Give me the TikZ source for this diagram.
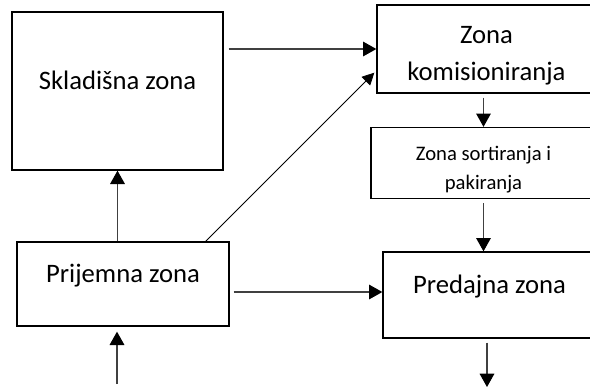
\documentclass[tikz,border=0pt]{standalone}
\usepackage{fontspec}
\setmainfont{Carlito}
\usetikzlibrary{arrows.meta,calc}
\begin{document}
\begin{tikzpicture}[
			x=0.75pt, y=-0.75pt,
			zone/.style={rectangle, draw, line width=1pt, inner sep=0pt, align=center, font=\fontsize{20}{28}\selectfont},
			lift/.style={text height=14pt, text depth=16pt},
			flow/.style={draw=black!75, line width=0.8pt, -{Triangle[length=10pt, width=11pt, color=black]}},
			slant/.style={draw=black, line width=0.6pt, -{Triangle[length=9pt, width=9pt]}}
			]
			\clip (0,0) rectangle (590,387);
			
			\node[zone, lift] (sklad) [minimum width=158.25pt, minimum height=118.5pt] at (117.5,91) {Skladišna zona};
			\node[zone] (komis) [minimum width=164.25pt, minimum height=66pt] at (486.5,49) {\rule{0pt}{23pt}Zona\\komisioniranja};
			\node[zone] (sort) [minimum width=168.75pt, minimum height=53.25pt, font=\fontsize{15.5}{22}\selectfont] at (483.5,163) {\rule{0pt}{20.5pt}Zona sortiranja i\\pakiranja};
			\node[zone, lift] (prijem) [minimum width=159pt, minimum height=63pt] at (123,284) {Prijemna zona};
			\node[zone, lift] (predaj) [minimum width=159.75pt, minimum height=64.5pt] at (489.5,295) {Predajna zona};
			\coordinate (ulaz) at (117,387);
			\coordinate (izlaz) at (487,387);
			
			\draw[flow, shorten <=3.75pt] (sklad.east |- komis.west) -- (komis.west);
			\draw[slant] ($(prijem.north east)+(-24,0)$) -- ($(komis.south west)+(-2,-21)$);
			\draw[flow] (sklad.south |- prijem.north) -- (sklad.south);
			\draw[flow, shorten <=3pt] (sort.north |- komis.south) -- (sort.north);
			\draw[flow, shorten <=3pt] (sort.south) -- (sort.south |- predaj.north);
			\draw[flow, shorten <=3pt] ($(prijem.east |- predaj.west)+(0,-3)$) -- ($(predaj.west)+(0,-3)$);
			\draw[flow, shorten >=3.75pt] ($(ulaz)+(0,-3)$) -- (ulaz |- prijem.south);
			\draw[flow, shorten <=3pt] (izlaz |- predaj.south) -- (izlaz);
		\end{tikzpicture}
\end{document}
